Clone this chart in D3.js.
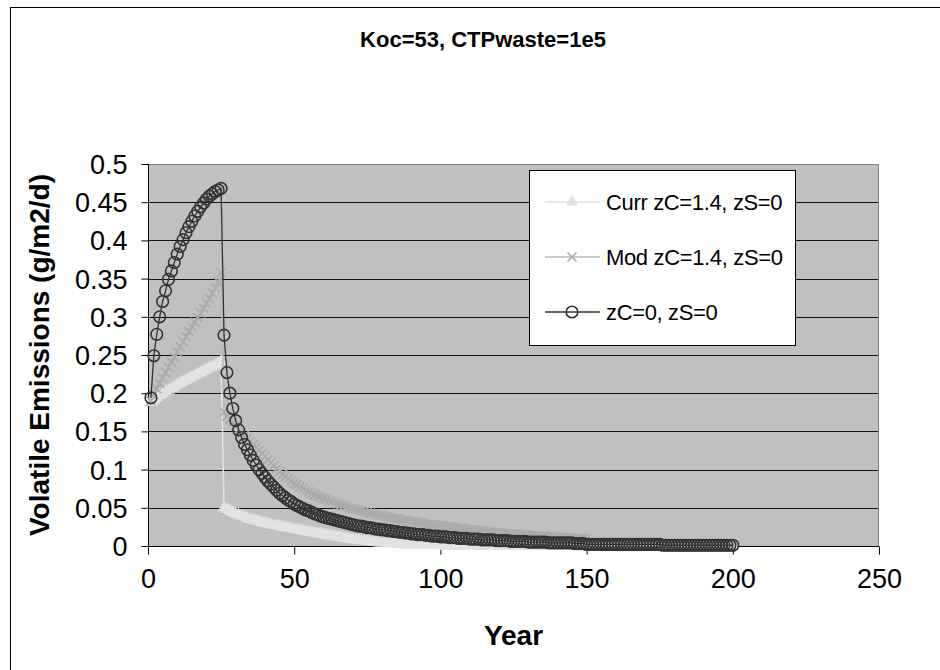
<!DOCTYPE html>
<html><head><meta charset="utf-8">
<script src="https://cdn.jsdelivr.net/npm/d3@7"></script>
<style>body{margin:0;background:#fff;} svg{display:block;font-family:"Liberation Sans",Arial,sans-serif;}</style>
</head><body><svg id="c" width="940" height="670"></svg>
<script>
const chartTitle = "Koc=53, CTPwaste=1e5";
const xTitle = "Year";
const yTitle = "Volatile Emissions (g/m2/d)";
const xTicks = [0, 50, 100, 150, 200, 250];
const yTicks = [0, 0.05, 0.1, 0.15, 0.2, 0.25, 0.3, 0.35, 0.4, 0.45, 0.5];
const seriesNames = ["Curr zC=1.4, zS=0", "Mod zC=1.4, zS=0", "zC=0, zS=0"];

const currValues = [
0.188,0.191,0.194,0.197,0.199,0.202,0.204,0.206,0.208,0.211,
0.213,0.215,0.217,0.219,0.221,0.223,0.225,0.227,0.229,0.231,
0.233,0.235,0.237,0.239,0.242,0.050,0.048,0.046,0.044,0.042,
0.041,0.039,0.038,0.036,0.035,0.034,0.033,0.032,0.031,0.030,
0.029,0.028,0.027,0.027,0.026,0.025,0.024,0.024,0.023,0.022,
0.021,0.021,0.020,0.019,0.018,0.018,0.017,0.016,0.016,0.015,
0.014,0.014,0.013,0.012,0.012,0.011,0.010,0.010,0.009,0.009,
0.008,0.008,0.007,0.007,0.006,0.006,0.005,0.005,0.004,0.004,
0.004,0.003,0.003,0.003,0.002,0.002,0.002,0.001,0.001,0.001,
0.001,0.001,0.001,0.001,0.001,0.001,0.001,0.001,0.001,0.001,
0,0,0,0,0,0,0,0,0,0,
0,0,0,0,0,0,0,0,0,0,
0,0,0,0,0,0,0,0,0,0,
0,0,0,0,0,0,0,0,0,0,
0,0,0,0,0,0,0,0,0,0,
0,0,0,0,0,0,0,0,0,0,
0,0,0,0,0,0,0,0,0,0,
0,0,0,0,0,0,0,0,0,0,
0,0,0,0,0,0,0,0,0,0,
0,0,0,0,0,0,0,0,0,0
];

const modValues = [
0.190,0.198,0.206,0.213,0.220,0.227,0.234,0.241,0.247,0.254,
0.261,0.267,0.274,0.281,0.287,0.293,0.299,0.305,0.311,0.318,
0.324,0.331,0.338,0.346,0.358,0.175,0.170,0.166,0.162,0.157,
0.153,0.149,0.145,0.141,0.137,0.133,0.129,0.125,0.121,0.117,
0.113,0.109,0.105,0.101,0.097,0.094,0.091,0.088,0.085,0.082,
0.080,0.077,0.075,0.073,0.071,0.069,0.067,0.065,0.064,0.062,
0.061,0.059,0.058,0.056,0.055,0.054,0.053,0.052,0.050,0.049,
0.048,0.047,0.046,0.045,0.044,0.043,0.042,0.041,0.040,0.040,
0.039,0.038,0.037,0.036,0.036,0.035,0.034,0.034,0.033,0.032,
0.032,0.031,0.031,0.030,0.029,0.029,0.028,0.028,0.027,0.027,
0.026,0.026,0.025,0.025,0.024,0.024,0.023,0.023,0.022,0.022,
0.021,0.021,0.020,0.020,0.020,0.019,0.019,0.018,0.018,0.018,
0.017,0.017,0.017,0.016,0.016,0.016,0.015,0.015,0.015,0.014,
0.014,0.014,0.013,0.013,0.013,0.013,0.012,0.012,0.012,0.012,
0.011,0.011,0.011,0.011,0.010,0.010,0.010,0.010,0.010,0.009
];

const zc0Values = [
0.194,0.249,0.277,0.300,0.320,0.334,0.349,0.360,0.371,0.382,
0.392,0.401,0.410,0.418,0.425,0.432,0.438,0.444,0.449,0.454,
0.458,0.461,0.464,0.466,0.468,0.276,0.227,0.200,0.180,0.164,
0.152,0.142,0.133,0.126,0.119,0.112,0.106,0.100,0.095,0.090,
0.085,0.081,0.077,0.073,0.069,0.066,0.063,0.060,0.058,0.055,
0.053,0.051,0.049,0.047,0.046,0.044,0.042,0.041,0.039,0.038,
0.037,0.036,0.035,0.034,0.033,0.032,0.031,0.030,0.029,0.028,
0.027,0.026,0.026,0.025,0.024,0.024,0.023,0.022,0.022,0.021,
0.021,0.020,0.020,0.019,0.019,0.018,0.018,0.017,0.017,0.016,
0.016,0.015,0.015,0.015,0.014,0.014,0.013,0.013,0.013,0.012,
0.012,0.012,0.011,0.011,0.011,0.010,0.010,0.010,0.010,0.009,
0.009,0.009,0.009,0.008,0.008,0.008,0.008,0.008,0.007,0.007,
0.007,0.007,0.007,0.006,0.006,0.006,0.006,0.006,0.006,0.005,
0.005,0.005,0.005,0.005,0.005,0.005,0.004,0.004,0.004,0.004,
0.004,0.004,0.004,0.004,0.004,0.003,0.003,0.003,0.003,0.002,
0.002,0.002,0.002,0.002,0.002,0.002,0.002,0.002,0.002,0.002,
0.002,0.002,0.002,0.002,0.002,0.002,0.002,0.002,0.002,0.002,
0.002,0.002,0.002,0.002,0.002,0.001,0.001,0.001,0.001,0.001,
0.001,0.001,0.001,0.001,0.001,0.001,0.001,0.001,0.001,0.001,
0.001,0.001,0.001,0.001,0.001,0.001,0.001,0.001,0.001,0.001
];

const toPts = vals => vals.map((v, i) => ({year: i + 1, v}));
const series = [
  {name: seriesNames[0], pts: toPts(currValues), line: "#e2e2e2", marker: "tri"},
  {name: seriesNames[1], pts: toPts(modValues), line: "#b9b9b9", marker: "x"},
  {name: seriesNames[2], pts: toPts(zc0Values), line: "#333333", marker: "circle"}
];

const svg = d3.select("#c");
const L = 148, R = 879, T = 164, B = 546;
const x = d3.scaleLinear().domain([0, 250]).range([L, R]);
const y = d3.scaleLinear().domain([0, 0.5]).range([B, T]);

// outer frame
svg.append("rect").attr("x", 10.5).attr("y", 7.5).attr("width", 940).attr("height", 670)
  .attr("fill", "#fff").attr("stroke", "#000");

svg.append("text").attr("x", 483).attr("y", 47).attr("text-anchor", "middle")
  .attr("font-size", 22).attr("font-weight", "bold").text(chartTitle);

// plot area
svg.append("rect").attr("x", L).attr("y", T).attr("width", R - L).attr("height", B - T)
  .attr("fill", "#c0c0c0");
svg.append("g").selectAll("line").data(yTicks.filter(d => d > 0 && d < 0.5)).join("line")
  .attr("x1", L).attr("x2", R)
  .attr("y1", d => Math.round(y(d)) + 0.5).attr("y2", d => Math.round(y(d)) + 0.5)
  .attr("stroke", "#111").attr("stroke-width", 1);
svg.append("path").attr("d", `M${L},${T + 0.5}H${R - 0.5}V${B}`)
  .attr("fill", "none").attr("stroke", "#808080");

// axes
const fmt = d => String(+d.toFixed(2));
const yAxis = svg.append("g").attr("transform", `translate(${L + 0.5},0)`)
  .call(d3.axisLeft(y).tickValues(yTicks).tickSize(7).tickPadding(14).tickFormat(fmt));
const xAxis = svg.append("g").attr("transform", `translate(0,${B + 0.5})`)
  .call(d3.axisBottom(x).tickValues(xTicks).tickSize(8).tickPadding(14).tickFormat(fmt));
[yAxis, xAxis].forEach(g => {
  g.select(".domain").attr("stroke", "#000");
  g.selectAll(".tick line").attr("stroke", "#000");
  g.selectAll("text").attr("font-size", 27).attr("fill", "#000")
    .attr("font-family", '"Liberation Sans",Arial,sans-serif');
});
yAxis.select(".domain").attr("d", `M0,${T}V${B}`);
xAxis.select(".domain").attr("d", `M${L},0H${R}`);
yAxis.selectAll("text").attr("dy", "0.35em");
xAxis.selectAll("text").attr("dy", "0.72em");

// axis titles
svg.append("text").attr("transform", `translate(49,${(T + B) / 2}) rotate(-90)`)
  .attr("text-anchor", "middle").attr("font-size", 28).attr("font-weight", "bold").text(yTitle);
svg.append("text").attr("x", (L + R) / 2).attr("y", 645).attr("text-anchor", "middle")
  .attr("font-size", 28).attr("font-weight", "bold").text(xTitle);

// markers
const triPath = d3.symbol(d3.symbolTriangle, 68)();
const xPath = "M-4.5,-4.5L4.5,4.5M-4.5,4.5L4.5,-4.5";
function drawMarker(g, type, cx, cy) {
  if (type === "tri") {
    g.append("path").attr("d", triPath).attr("transform", `translate(${cx},${cy})`)
      .attr("fill", "#e2e2e2");
  } else if (type === "x") {
    g.append("path").attr("d", xPath).attr("transform", `translate(${cx},${cy})`)
      .attr("fill", "none").attr("stroke", "#ababab").attr("stroke-width", 1.6);
  } else {
    g.append("circle").attr("cx", cx).attr("cy", cy).attr("r", 5.8)
      .attr("fill", "none").attr("stroke", "#333").attr("stroke-width", 1.6);
  }
}

const line = d3.line().x(d => x(d.year)).y(d => y(d.v));
series.forEach(s => {
  const g = svg.append("g");
  g.append("path").datum(s.pts).attr("d", line).attr("fill", "none")
    .attr("stroke", s.line).attr("stroke-width", s.marker === "circle" ? 1.3 : 1.5);
  s.pts.forEach(p => drawMarker(g, s.marker, x(p.year), y(p.v)));
});

// legend
const lg = svg.append("g");
lg.append("rect").attr("x", 529.5).attr("y", 170.5).attr("width", 266).attr("height", 175)
  .attr("fill", "#fff").attr("stroke", "#000");
const legY = [202, 257, 312];
series.forEach((s, i) => {
  lg.append("line").attr("x1", 545).attr("x2", 600).attr("y1", legY[i]).attr("y2", legY[i])
    .attr("stroke", s.line).attr("stroke-width", 1.5);
  drawMarker(lg, s.marker, 572, legY[i]);
  lg.append("text").attr("x", 606).attr("y", legY[i] + 8).attr("font-size", 22)
    .attr("letter-spacing", "-0.35").text(s.name);
});
</script></body></html>
